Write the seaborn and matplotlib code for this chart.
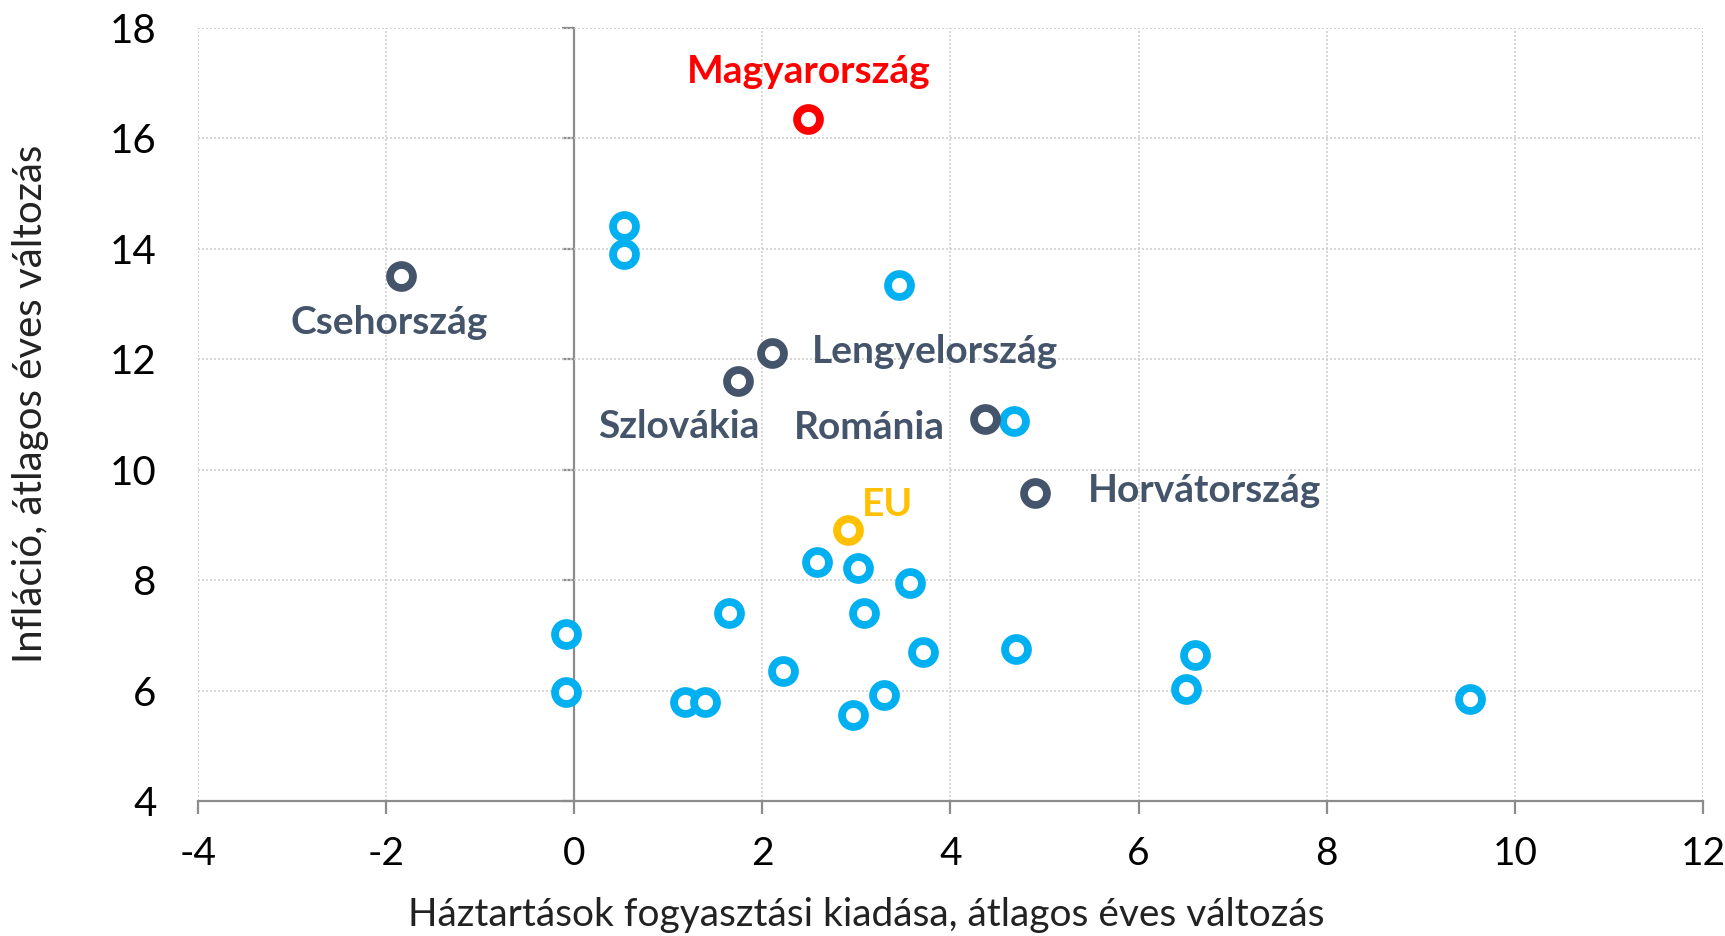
import numpy as np
import pandas as pd
import seaborn as sns
import matplotlib
matplotlib.use("Agg")
import matplotlib.pyplot as plt

sns.set_theme(style="white")
plt.rcParams['font.family'] = ['Lato', 'DejaVu Sans']

# ---- data ----
other_x = [0.53, 0.53, 3.45, 4.68, 2.58, 3.02, 3.57, 1.65, 3.08, -0.09, 3.71, 4.70, 6.60,
           2.22, -0.09, 1.18, 1.39, 3.29, 6.50, 2.96, 9.52]
other_y = [14.41, 13.90, 13.34, 10.87, 8.32, 8.22, 7.94, 7.40, 7.40, 7.02, 6.70, 6.76, 6.65,
           6.35, 5.98, 5.79, 5.79, 5.91, 6.03, 5.55, 5.85]

region_names = ["Csehország", "Lengyelország", "Szlovákia", "Románia", "Horvátország"]
region_x = [-1.84, 2.10, 1.74, 4.37, 4.90]
region_y = [13.50, 12.10, 11.60, 10.91, 9.57]

hu_name = "Magyarország"
hu_x = [2.49]
hu_y = [16.35]

eu_name = "EU"
eu_x = [2.91]
eu_y = [8.90]

x_ticks = [-4, -2, 0, 2, 4, 6, 8, 10, 12]
y_ticks = [4, 6, 8, 10, 12, 14, 16, 18]
x_label = "Háztartások fogyasztási kiadása, átlagos éves változás"
y_label = "Infláció, átlagos éves változás"

# ---- styling ----
C_BLUE = "#00B0F0"
C_DARK = "#44546A"
C_RED = "#FF0000"
C_GOLD = "#FFC000"
C_AXIS = "#8C8C8C"

fig = plt.figure(figsize=(17.25, 9.36), dpi=100)
ax = fig.add_axes([0.1148, 0.1442, 0.9872 - 0.1148, 0.9706 - 0.1442])

df = pd.concat([
    pd.DataFrame({"x": other_x, "y": other_y, "g": "other"}),
    pd.DataFrame({"x": region_x, "y": region_y, "g": "region"}),
    pd.DataFrame({"x": eu_x, "y": eu_y, "g": "eu"}),
    pd.DataFrame({"x": hu_x, "y": hu_y, "g": "hu"}),
], ignore_index=True)

palette = {"other": C_BLUE, "region": C_DARK, "eu": C_GOLD, "hu": C_RED}
for g, col in palette.items():
    sub = df[df.g == g]
    sns.scatterplot(data=sub, x="x", y="y", ax=ax, marker="o", s=16.5**2,
                    facecolor="white", edgecolor=col, linewidth=5.6, zorder=3,
                    legend=False)

ax.set_xlim(-4, 12)
ax.set_ylim(4, 18)
ax.set_xticks(x_ticks)
ax.set_yticks(y_ticks)
ax.set_xticklabels([str(t) for t in x_ticks])
ax.set_yticklabels([str(t) for t in y_ticks])

ax.grid(True, color="#CFCFCF", linestyle=(0, (1.2, 1.2)), linewidth=1.2, zorder=0)
# the x=0 grid line is replaced by the crossing vertical axis
for t, gl in zip(x_ticks, ax.get_xgridlines()):
    if t == 0:
        gl.set_visible(False)
for side in ["top", "right", "left"]:
    ax.spines[side].set_visible(False)
ax.spines["bottom"].set_color(C_AXIS)
ax.spines["bottom"].set_linewidth(1.6)
ax.spines["bottom"].set_zorder(2)
ax.tick_params(axis="x", direction="out", length=9, width=1.6, color=C_AXIS,
               labelsize=28, pad=16, labelcolor="black", bottom=True)
ax.tick_params(axis="y", left=False, labelsize=29, pad=24, labelcolor="black")

# vertical axis crossing at x=0 with ticks (labels stay at left)
sec = ax.secondary_yaxis(0.25)
sec.set_yticks(y_ticks)
sec.set_yticklabels([])
sec.spines["left"].set_color(C_AXIS)
sec.spines["left"].set_linewidth(1.6)
sec.tick_params(axis="y", direction="out", length=9, width=1.6, color=C_AXIS)

ax.set_xlabel(x_label, fontsize=28, color="#222222")
ax.xaxis.set_label_coords(0.444, -0.124)
ax.set_ylabel(y_label, fontsize=29, color="#222222")
ax.yaxis.set_label_coords(-0.099, 0.513)

# ---- labels ----
lab_kw = dict(textcoords="offset pixels", fontsize=28, fontweight="bold", zorder=4)
offsets = {
    "Csehország": ((-12, -46), "center", "center"),
    "Lengyelország": ((40, 2), "left", "center"),
    "Szlovákia": ((-59, -45), "center", "center"),
    "Románia": ((-116, -8), "center", "center"),
    "Horvátország": ((53, 3), "left", "center"),
}
for name, xv, yv in zip(region_names, region_x, region_y):
    off, ha, va = offsets[name]
    ax.annotate(name, (xv, yv), xytext=off, ha=ha, va=va, color=C_DARK, **lab_kw)

ax.annotate(hu_name, (hu_x[0], hu_y[0]), xytext=(0, 47), ha="center", va="center",
            color=C_RED, **lab_kw)
ax.annotate(eu_name, (eu_x[0], eu_y[0]), xytext=(40, 26), ha="center", va="center",
            color=C_GOLD, **lab_kw)

fig.savefig("out.png", dpi=100, facecolor="white")
